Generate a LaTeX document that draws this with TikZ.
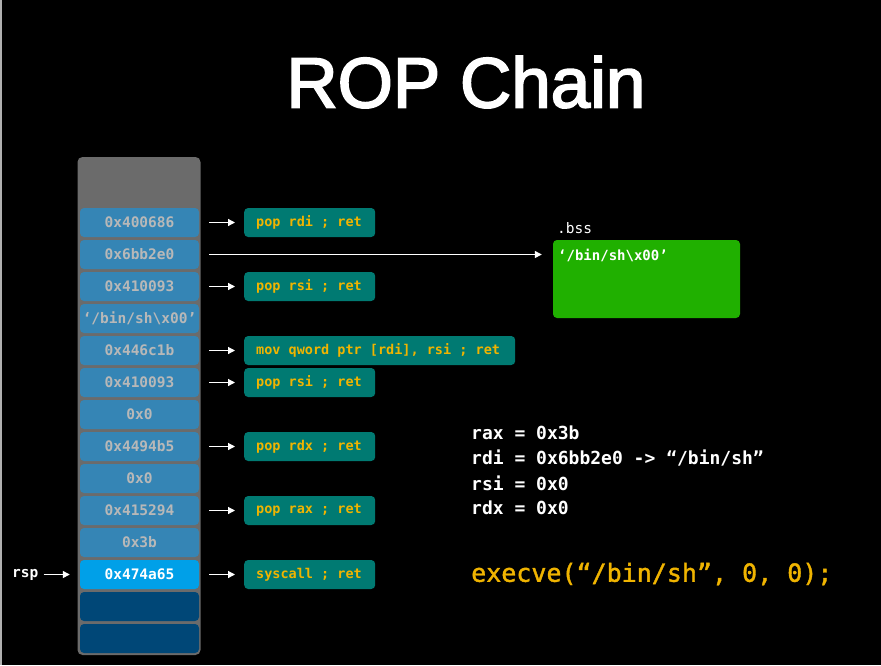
\documentclass[tikz,border=0pt]{standalone}
\usepackage{fontspec}
\setmainfont{Liberation Sans}
\newfontfamily\monof{DejaVu Sans Mono}
\newfontfamily\monoheavy{DejaVu Sans Mono}[FakeBold=1.5]
\newfontfamily\titlef{Liberation Sans}[FakeBold=2.5]
\usetikzlibrary{arrows.meta}
\definecolor{stackgray}{HTML}{6B6B6B}
\definecolor{cellblue}{HTML}{3585B5}
\definecolor{celltext}{HTML}{B8B8B8}
\definecolor{rspblue}{HTML}{00A0E8}
\definecolor{darkblue}{HTML}{004777}
\definecolor{teal}{HTML}{007A72}
\definecolor{gold}{HTML}{F0B400}
\definecolor{bssgreen}{HTML}{20B000}
\definecolor{edgegray}{HTML}{B0B0B0}
\tikzset{
  cell/.style={fill=cellblue, rounded corners=4pt, minimum width=119pt, minimum height=29pt, inner sep=0pt,
    text=celltext, font=\monof\bfseries\fontsize{14.5}{16}\selectfont},
  gadget/.style={fill=teal, rounded corners=4pt, anchor=west, minimum height=29pt, inner xsep=12pt, inner ysep=0pt,
    text=gold, font=\monof\bfseries\fontsize{13.5}{15}\selectfont},
  arr/.style={draw=white, line width=1.3pt, -{Triangle[length=7pt,width=7pt]}},
  reg/.style={anchor=west, inner sep=0pt, text=white, font=\monof\bfseries\fontsize{18}{20}\selectfont}
}
\newcommand{\gbox}[2]{\makebox[#1][l]{#2}}
\begin{document}
\begin{tikzpicture}[x=1pt, y=-1pt]
\fill[black] (0,0) rectangle (881,665);
\useasboundingbox (0,0) rectangle (881,665);
\draw[edgegray, line width=1.5pt] (1,0) -- (1,665);
% title
\node[text=white, inner sep=0pt] (title) at (466,82) {\titlef\fontsize{71}{80}\selectfont ROP Chain};
% stack
\node[fill=stackgray, rounded corners=5pt, minimum width=123pt, minimum height=498pt, inner sep=0pt] (stack) at (139,406) {};
\node[cell] (c1) at (139.5,222.5) {0x400686};
\node[cell] (c2) at (139.5,254.5) {0x6bb2e0};
\node[cell] (c3) at (139.5,286.5) {0x410093};
\node[cell] (c4) at (139.5,318.5) {‘/bin/sh\textbackslash x00’};
\node[cell] (c5) at (139.5,350.5) {0x446c1b};
\node[cell] (c6) at (139.5,382.5) {0x410093};
\node[cell] (c7) at (139.5,414.5) {0x0};
\node[cell] (c8) at (139.5,446.5) {0x4494b5};
\node[cell] (c9) at (139.5,478.5) {0x0};
\node[cell] (c10) at (139.5,510.5) {0x415294};
\node[cell] (c11) at (139.5,542.5) {0x3b};
\node[cell, fill=rspblue, text=white] (c12) at (139.5,574.5) {0x474a65};
\node[cell, fill=darkblue] (c13) at (139.5,606.5) {};
\node[cell, fill=darkblue] (c14) at (139.5,638.5) {};
% gadgets
\node[gadget] (g1) at (244,222.5) {\gbox{107pt}{pop rdi ; ret}};
\node[gadget] (g3) at (244,286.5) {\gbox{107pt}{pop rsi ; ret}};
\node[gadget] (g5) at (244,350.5) {\gbox{247pt}{mov qword ptr [rdi], rsi ; ret}};
\node[gadget] (g6) at (244,382.5) {\gbox{107pt}{pop rsi ; ret}};
\node[gadget] (g8) at (244,446.5) {\gbox{107pt}{pop rdx ; ret}};
\node[gadget] (g10) at (244,510.5) {\gbox{107pt}{pop rax ; ret}};
\node[gadget] (g12) at (244,574.5) {\gbox{107pt}{syscall ; ret}};
\foreach \i in {1,3,5,6,8,10,12}{
  \draw[arr] ([xshift=10pt]c\i.east) -- ([xshift=-9pt]g\i.west);
}
% bss
\node[fill=bssgreen, rounded corners=4pt, minimum width=187pt, minimum height=78pt, inner sep=0pt] (bss) at (646.5,279) {};
\node[anchor=west, inner sep=0pt, text=white, font=\monof\fontsize{14.5}{16}\selectfont] (bsslabel) at (557,228) {.bss};
\node[anchor=west, inner sep=0pt, text=white, font=\monof\bfseries\fontsize{14}{16}\selectfont] (bsstext) at (558,255) {‘/bin/sh\textbackslash x00’};
\draw[arr] ([xshift=10pt]c2.east) -- ([xshift=-11pt]bss.west |- c2.east);
% rsp
\node[anchor=west, inner sep=0pt, text=white, font=\monof\bfseries\fontsize{14.5}{16}\selectfont] (rsp) at (12,574.5) {rsp};
\draw[arr] ([xshift=5pt]rsp.east) -- ([xshift=-10pt]c12.west);
% registers
\node[reg] (r1) at (471,433) {rax = 0x3b};
\node[reg] (r2) at (471,458) {rdi = 0x6bb2e0 -> “/bin/sh”};
\node[reg] (r3) at (471,483) {rsi = 0x0};
\node[reg] (r4) at (471,508) {rdx = 0x0};
\node[anchor=west, inner sep=0pt, text=gold, font=\monoheavy\fontsize{25}{28}\selectfont] (exec) at (471,574) {execve(“/bin/sh”, 0, 0);};
\end{tikzpicture}
\end{document}
